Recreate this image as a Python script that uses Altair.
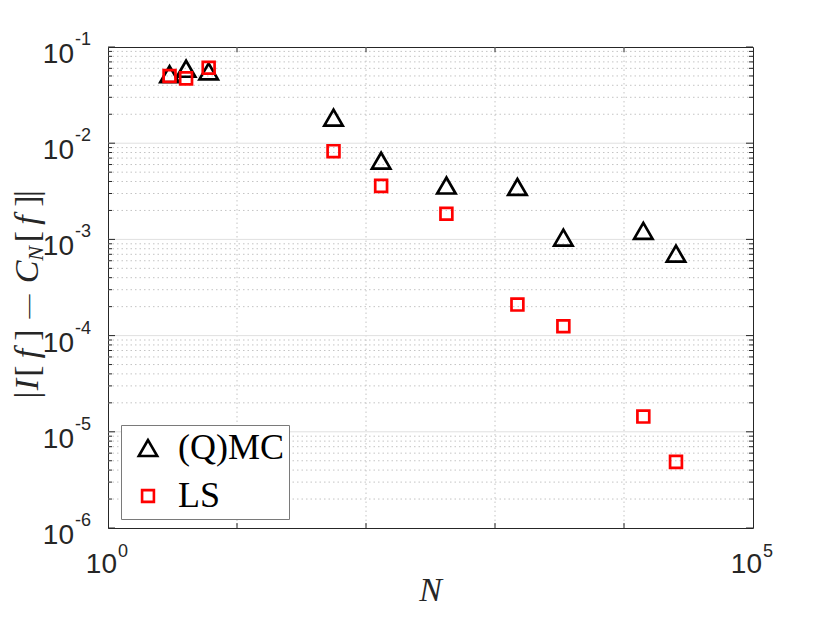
import altair as alt
import pandas as pd

# ---------------- data ----------------
sample_sizes = [3.0, 4.03, 6.03, 56.0, 131.0, 420.0, 1492.0, 3388.0, 14120.0, 25290.0]
qmc_errors = [0.0523, 0.0594, 0.0558, 0.01845, 0.00658, 0.00363, 0.00351, 0.001045, 0.001227, 0.000711]
ls_errors = [0.0499, 0.0472, 0.0609, 0.00826, 0.00360, 0.00185, 0.000210, 0.000125, 1.44e-5, 4.87e-6]
series_names = ["(Q)MC", "LS"]

x_major_ticks = [1.0, 1e5]
x_major_exponents = ["0", "5"]
x_minor_ticks = [1e1, 1e2, 1e3, 1e4]
y_major_ticks = [1e-6, 1e-5, 1e-4, 1e-3, 1e-2, 1e-1]
y_major_exponents = ["-6", "-5", "-4", "-3", "-2", "-1"]
y_minor_ticks = [m * 10.0 ** e for e in range(-6, -1) for m in range(2, 10)]
x_title = "N"

# ---------------- layout / style ----------------
W, H = 645, 481
AX = "#262626"
xs = alt.Scale(type="log", domain=[1, 1e5], nice=False)
ys = alt.Scale(type="log", domain=[1e-6, 1e-1], nice=False)

points = pd.DataFrame({
    "N": sample_sizes * 2,
    "err": qmc_errors + ls_errors,
    "method": [series_names[0]] * len(sample_sizes) + [series_names[1]] * len(sample_sizes),
})


def hrules(values, x0, x1, **mk):
    df = pd.DataFrame({"v": values})
    return alt.Chart(df).mark_rule(**mk).encode(
        y=alt.Y("v:Q", scale=ys, axis=None), x=alt.value(x0), x2=alt.value(x1))


def vrules(values, y0, y1, **mk):
    df = pd.DataFrame({"v": values})
    return alt.Chart(df).mark_rule(**mk).encode(
        x=alt.X("v:Q", scale=xs, axis=None), y=alt.value(y0), y2=alt.value(y1))


minor_style = dict(color="#c4c4c4", strokeDash=[1.5, 3], strokeWidth=1)
layers = [
    hrules(y_minor_ticks, 0, W, **minor_style),
    vrules(x_minor_ticks, 0, H, **minor_style),
    hrules(y_major_ticks[1:-1], 0, W, color="#e0e0e0", strokeWidth=1),
    # inward ticks on all four sides
    hrules(y_major_ticks, 0, 7, color=AX, strokeWidth=1),
    hrules(y_major_ticks, W - 7, W, color=AX, strokeWidth=1),
    hrules(y_minor_ticks, 0, 4, color=AX, strokeWidth=1),
    hrules(y_minor_ticks, W - 4, W, color=AX, strokeWidth=1),
    vrules(x_minor_ticks, H, H - 5, color=AX, strokeWidth=1),
    vrules(x_minor_ticks, 0, 5, color=AX, strokeWidth=1),
]

leg = alt.Legend(
    title=None, orient="none", legendX=13, legendY=378, direction="vertical",
    labelFont="Liberation Serif", labelFontSize=36, labelColor="#000000", labelLimit=400,
    strokeColor="#7a7a7a", fillColor="#ffffff", padding=5, rowPadding=12,
    symbolOffset=4, labelOffset=12, symbolStrokeWidth=2.6,
)

pts = alt.Chart(points).mark_point(filled=False, strokeWidth=2.7, opacity=1).encode(
    x=alt.X("N:Q", scale=xs, axis=None),
    y=alt.Y("err:Q", scale=ys, axis=None),
    color=alt.Color("method:N", scale=alt.Scale(domain=series_names, range=["#000000", "#ff0000"]), legend=leg),
    shape=alt.Shape("method:N", scale=alt.Scale(domain=series_names, range=["triangle-up", "square"]), legend=leg),
    size=alt.Size("method:N", scale=alt.Scale(domain=series_names, range=[340, 140]), legend=leg),
    order=alt.Order("method:N"),
)
layers.append(pts)

# tick labels: "10" with a raised exponent
ylab = pd.DataFrame({"v": y_major_ticks, "base": ["10"] * len(y_major_ticks), "exp": y_major_exponents})
xlab = pd.DataFrame({"v": x_major_ticks, "base": ["10"] * len(x_major_ticks), "exp": x_major_exponents})
lab_font = "Liberation Sans"
layers += [
    alt.Chart(ylab).mark_text(align="right", baseline="middle", font=lab_font, fontSize=28,
                              color=AX, dx=-34, dy=8).encode(
        y=alt.Y("v:Q", scale=ys, axis=None), x=alt.value(0), text="base:N"),
    alt.Chart(ylab).mark_text(align="left", baseline="middle", font=lab_font, fontSize=18,
                              color=AX, dx=-33, dy=-7).encode(
        y=alt.Y("v:Q", scale=ys, axis=None), x=alt.value(0), text="exp:N"),
    alt.Chart(xlab).mark_text(align="right", baseline="middle", font=lab_font, fontSize=28,
                              color=AX, dx=9, dy=37).encode(
        x=alt.X("v:Q", scale=xs, axis=None), y=alt.value(H), text="base:N"),
    alt.Chart(xlab).mark_text(align="left", baseline="middle", font=lab_font, fontSize=18,
                              color=AX, dx=10, dy=24).encode(
        x=alt.X("v:Q", scale=xs, axis=None), y=alt.value(H), text="exp:N"),
]

one = pd.DataFrame({"a": [0]})
# x-axis title
layers.append(
    alt.Chart(one).mark_text(
        text=x_title, align="center", baseline="alphabetic", font="Liberation Serif",
        fontSize=34, fontStyle="italic", color=AX,
    ).encode(x=alt.value(W / 2), y=alt.value(H + 73))
)

# y-axis title  |I[f] - C_N[f]|  set glyph by glyph (rotated)
MB, SB = -70, -65
title_glyphs = [
    ("|", 348, False, 34, MB), ("I", 337.5, True, 34, MB), ("[", 324, False, 34, MB),
    ("f", 306.5, True, 34, MB), ("]", 288, False, 34, MB), ("\u2014", 259.5, False, 24, MB - 3),
    ("C", 225, True, 34, MB), ("N", 206.5, True, 22, SB), ("[", 189.5, False, 34, MB),
    ("f", 173, True, 34, MB), ("]", 154, False, 34, MB), ("|", 146.5, False, 34, MB),
]
for txt, yc, ital, fs, xb in title_glyphs:
    layers.append(
        alt.Chart(one).mark_text(
            text=txt, angle=270, align="center", baseline="alphabetic",
            font="Liberation Serif", fontSize=fs, fontStyle="italic" if ital else "normal",
            color=AX,
        ).encode(x=alt.value(xb), y=alt.value(yc))
    )

chart = alt.layer(*layers).properties(
    width=W, height=H,
    autosize=alt.AutoSizeParams(type="none"),
    padding={"left": 100, "top": 39, "right": 60, "bottom": 82},
    background="#ffffff",
).configure_view(stroke=AX, strokeWidth=1)

chart.save("out.html", embed_options={"renderer": "svg", "actions": False})
